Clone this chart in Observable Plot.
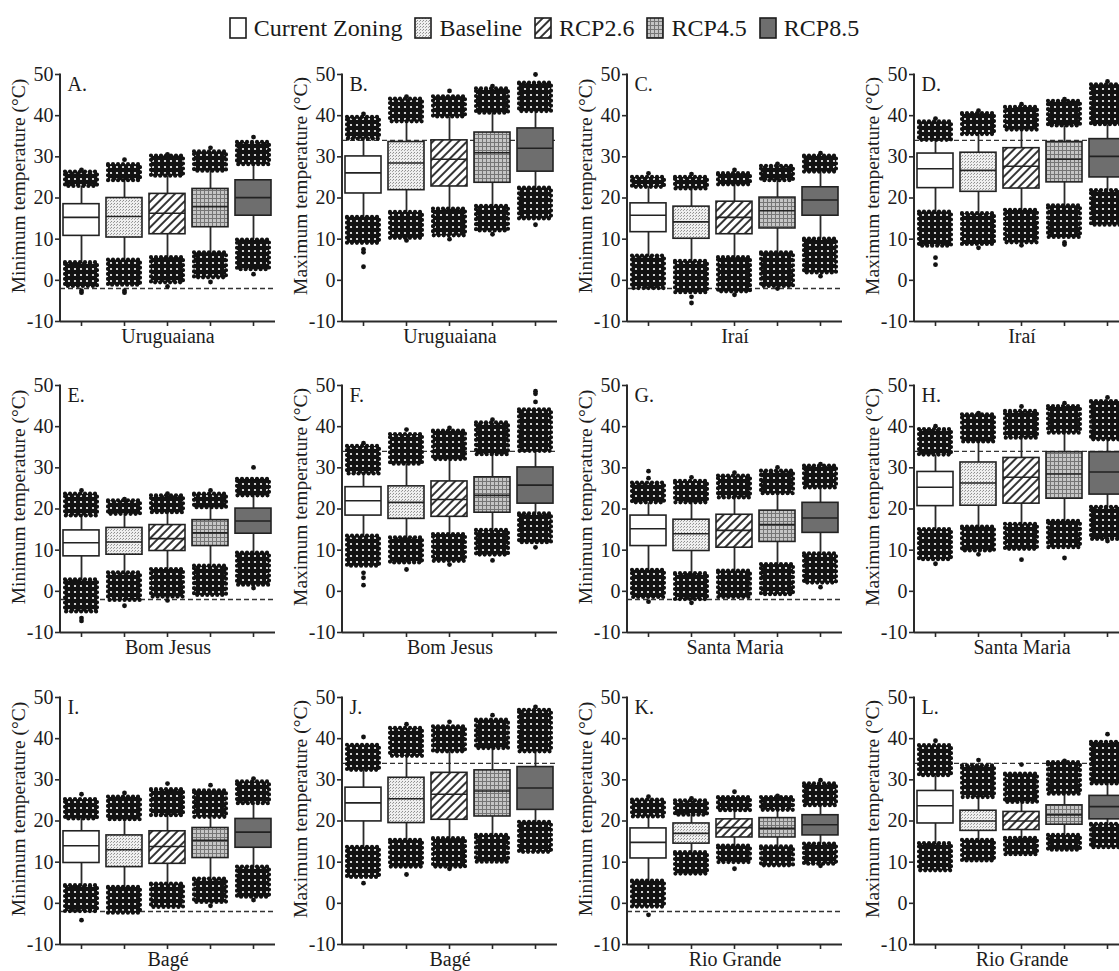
<!DOCTYPE html>
<html><head><meta charset="utf-8">
<script src="https://cdn.jsdelivr.net/npm/d3@7"></script>
<script src="https://cdn.jsdelivr.net/npm/@observablehq/plot@0.6"></script>
<style>
html,body{margin:0;padding:0;background:#fff;overflow:hidden;width:1119px;height:971px;}
#root{position:relative;width:1119px;height:971px;overflow:hidden;font-family:"Liberation Serif","Times New Roman",serif;color:#1a1a1a;}
.panel{position:absolute;width:285px;height:289px;}
.panel svg{max-width:none !important;background:transparent !important;overflow:visible;}
#legend{position:absolute;top:10px;left:0;width:1088px;display:flex;justify-content:center;align-items:center;font-size:24px;line-height:36px;}
#legend .item{display:flex;align-items:center;margin:0 6px;}
#legend svg{margin-right:7px;}
</style>
</head><body>
<svg width="0" height="0" style="position:absolute">
<defs>
<pattern id="pBase" width="3" height="3" patternUnits="userSpaceOnUse">
<rect width="3" height="3" fill="#efefef"/><rect x="0" y="0" width="1" height="1" fill="#8e8e8e"/><rect x="2" y="1" width="1" height="1" fill="#a5a5a5"/>
</pattern>
<pattern id="pR26" width="6" height="6" patternUnits="userSpaceOnUse" patternTransform="rotate(45)">
<rect width="6" height="6" fill="#fff"/><line x1="1" y1="0" x2="1" y2="6" stroke="#1e1e1e" stroke-width="1.8"/>
</pattern>
<pattern id="pR45" width="4" height="4" patternUnits="userSpaceOnUse">
<rect width="4" height="4" fill="#c6c6c6"/><rect x="0" y="0" width="4" height="1" fill="#767676"/><rect x="0" y="0" width="1" height="4" fill="#767676"/>
</pattern>
<pattern id="pCloud" width="6" height="6" patternUnits="userSpaceOnUse">
<rect width="6" height="6" fill="#121212"/><circle cx="3" cy="3" r="1.1" fill="#fff"/>
</pattern>
</defs>
</svg>
<div id="root">
<div id="legend"></div>
</div>
<script>
// ---------- data ----------
const scenarios = ["Current Zoning", "Baseline", "RCP2.6", "RCP4.5", "RCP8.5"];
const cities = ["Uruguaiana", "Iraí", "Bom Jesus", "Santa Maria", "Bagé", "Rio Grande"];
const variables = ["Minimum temperature (°C)", "Maximum temperature (°C)"];
const thresholds = [-2, 34];
const yTicks = [-10, 0, 10, 20, 30, 40, 50];
const letters = ["A.", "B.", "C.", "D.", "E.", "F.", "G.", "H.", "I.", "J.", "K.", "L."];

// each row: [cloud low end, lower whisker, Q1, median, Q3, upper whisker, cloud high end]
const A = [[-1.5, 4.3, 10.8, 15.3, 18.5, 22.8, 26.3], [-1.2, 4.9, 10.4, 15.5, 20.0, 24.2, 28.1], [-0.6, 5.5, 11.2, 16.3, 21.0, 25.3, 30.2], [0.6, 6.7, 12.9, 17.9, 22.2, 26.5, 31.2], [2.6, 9.8, 15.7, 20.1, 24.3, 28.1, 33.5]];
const B = [[9.0, 15.3, 21.1, 26.1, 30.1, 34.3, 39.6], [10.2, 16.5, 21.9, 28.5, 33.6, 38.5, 44.0], [10.8, 17.3, 22.8, 29.4, 34.0, 39.7, 44.6], [12.0, 18.0, 23.7, 31.0, 35.9, 40.6, 46.5], [14.9, 22.4, 26.4, 32.1, 36.9, 41.0, 47.9]];
const C = [[-2.0, 5.9, 11.7, 15.8, 18.7, 22.6, 25.0], [-3.0, 4.6, 10.1, 14.2, 17.9, 22.2, 25.0], [-2.8, 5.5, 11.2, 15.3, 19.1, 23.2, 25.9], [-1.5, 6.7, 12.6, 16.9, 20.1, 24.2, 27.7], [1.8, 10.0, 15.7, 19.5, 22.6, 26.3, 30.2]];
const D = [[8.3, 16.6, 22.4, 27.1, 30.8, 34.0, 38.5], [8.7, 16.2, 21.5, 26.7, 31.0, 35.4, 40.5], [9.1, 17.0, 22.3, 27.7, 32.1, 36.5, 42.0], [10.4, 18.1, 23.8, 29.4, 33.6, 37.5, 43.5], [13.4, 21.8, 25.0, 30.1, 34.3, 37.8, 47.5]];
const E = [[-5.0, 2.8, 8.5, 11.8, 14.8, 18.3, 23.6], [-2.2, 4.5, 8.9, 12.0, 15.4, 18.7, 22.0], [-1.4, 5.3, 9.8, 12.8, 16.1, 19.1, 23.2], [-1.0, 6.1, 11.0, 14.2, 17.3, 20.3, 23.6], [1.5, 9.3, 14.0, 17.1, 20.1, 23.2, 27.2]];
const F = [[6.1, 13.4, 18.4, 22.0, 25.3, 28.5, 35.2], [6.9, 13.0, 17.6, 21.6, 25.5, 30.9, 38.1], [7.3, 13.8, 18.1, 22.3, 26.7, 32.0, 38.9], [8.8, 14.8, 19.1, 23.3, 27.7, 33.2, 40.9], [11.8, 18.8, 21.3, 25.8, 30.1, 34.0, 44.1]];
const G = [[-1.5, 5.1, 11.0, 15.2, 18.4, 21.5, 26.3], [-2.0, 4.3, 9.8, 14.0, 17.4, 21.5, 26.7], [-1.5, 4.9, 10.6, 14.8, 18.6, 22.7, 28.0], [-0.8, 6.5, 12.0, 16.2, 19.6, 23.7, 29.2], [2.0, 9.1, 14.2, 17.8, 21.5, 25.1, 30.4]];
const H = [[7.7, 15.0, 20.7, 25.3, 29.0, 33.1, 39.3], [9.8, 15.6, 20.8, 26.3, 31.3, 36.3, 42.9], [10.2, 16.3, 21.3, 27.7, 32.4, 37.2, 43.7], [10.6, 17.0, 22.5, 28.5, 33.8, 38.4, 44.9], [12.6, 20.4, 23.5, 29.0, 33.8, 36.8, 46.1]];
const I = [[-2.0, 4.3, 9.8, 14.0, 17.5, 20.5, 25.2], [-2.4, 3.9, 8.8, 13.0, 16.5, 20.3, 25.8], [-1.0, 4.7, 9.6, 13.8, 17.5, 21.3, 27.6], [0.2, 5.9, 11.0, 15.3, 18.3, 20.9, 27.3], [1.5, 8.8, 13.5, 17.3, 20.5, 24.2, 29.5]];
const J = [[6.3, 13.6, 19.9, 24.4, 28.1, 32.3, 38.4], [8.8, 15.3, 19.5, 25.4, 30.5, 35.7, 42.5], [8.8, 15.7, 20.3, 26.5, 31.7, 36.8, 42.9], [10.0, 16.5, 21.1, 27.3, 32.3, 37.6, 44.5], [12.4, 19.7, 22.7, 28.0, 33.1, 36.8, 46.9]];
const K = [[-0.9, 5.4, 10.9, 14.8, 18.2, 21.0, 25.1], [7.1, 12.3, 14.5, 17.0, 19.4, 21.4, 24.9], [9.9, 13.9, 16.0, 18.4, 20.4, 22.5, 25.7], [9.1, 13.7, 16.0, 18.2, 20.7, 22.6, 25.7], [9.5, 14.4, 16.5, 19.1, 21.4, 23.7, 29.0]];
const L = [[7.9, 14.5, 19.4, 23.7, 27.3, 31.0, 38.3], [10.3, 15.3, 17.6, 20.0, 22.5, 25.7, 33.4], [11.8, 15.8, 17.8, 20.0, 22.2, 24.5, 31.4], [12.9, 16.5, 19.1, 21.5, 23.8, 26.5, 34.2], [13.5, 19.2, 20.4, 23.5, 26.1, 29.0, 39.1]];

// isolated extreme points: [scenario index, value]
const extA = [[0, -2.5], [0, -3.0], [0, 26.8], [1, -2.5], [1, -3.0], [1, 29.3], [2, -1.5], [2, 30.6], [3, -0.4], [3, 32.2], [4, 1.5], [4, 34.8]];
const extB = [[0, 7.5], [0, 6.8], [0, 3.3], [0, 40.4], [1, 9.7], [1, 44.6], [2, 10.0], [2, 46.0], [3, 11.2], [3, 47.2], [4, 13.5], [4, 50.0]];
const extC = [[0, 26.0], [1, -4.0], [1, -5.5], [1, 25.8], [2, -3.5], [2, 26.8], [3, -2.0], [3, 28.3], [4, 1.0], [4, 30.9]];
const extD = [[0, 5.5], [0, 3.8], [0, 39.3], [1, 7.9], [1, 41.2], [2, 8.5], [2, 42.8], [3, 9.2], [3, 8.7], [3, 44.0], [4, 48.3]];
const extE = [[0, -6.5], [0, -7.2], [0, 24.5], [1, -3.5], [1, 22.4], [2, -2.2], [2, 23.7], [3, 24.5], [4, 0.8], [4, 30.1]];
const extF = [[0, 4.5], [0, 3.3], [0, 1.5], [0, 36.0], [1, 5.3], [1, 39.3], [2, 6.5], [2, 39.7], [3, 7.5], [3, 41.7], [4, 10.7], [4, 46.0], [4, 48.0], [4, 48.6]];
const extG = [[0, -2.5], [0, 27.5], [0, 29.2], [1, -2.8], [1, 27.7], [2, 28.8], [3, 30.1], [4, 1.0], [4, 30.9]];
const extH = [[0, 6.7], [0, 40.1], [1, 9.0], [1, 43.3], [2, 7.7], [2, 44.9], [3, 8.1], [3, 45.7], [4, 12.2], [4, 47.1]];
const extI = [[0, -4.1], [0, 26.5], [1, 26.8], [2, 29.1], [3, -0.6], [3, 28.7], [4, 0.8], [4, 30.3]];
const extJ = [[0, 4.9], [0, 40.4], [1, 7.0], [1, 43.5], [2, 8.4], [2, 44.1], [3, 45.7], [4, 47.7]];
const extK = [[0, -2.8], [0, 25.9], [1, 25.5], [2, 8.4], [2, 27.1], [3, 26.1], [4, 9.1], [4, 29.9]];
const extL = [[0, 39.5], [1, 34.8], [2, 33.7], [3, 34.6], [4, 41.1]];

// panel table: [stats, extremes, letter, city index, variable index]
const panels = [
  [A, extA, 0, 0, 0], [B, extB, 1, 0, 1], [C, extC, 2, 1, 0], [D, extD, 3, 1, 1],
  [E, extE, 4, 2, 0], [F, extF, 5, 2, 1], [G, extG, 6, 3, 0], [H, extH, 7, 3, 1],
  [I, extI, 8, 4, 0], [J, extJ, 9, 4, 1], [K, extK, 10, 5, 0], [L, extL, 11, 5, 1]
];

// ---------- styling / layout ----------
const boxFills = ["#ffffff", "url(#pBase)", "url(#pR26)", "url(#pR45)", "#6e6e6e"];
const colAxisX = [60, 342, 627, 914];
const rowTop = [74, 385, 697];
const M = {left: 60, right: 10, top: 12, bottom: 30};
const FW = 215, FH = 247;
const ink = "#1c1c1c";
const font = '"Liberation Serif","Times New Roman",serif';

const root = document.getElementById("root");

panels.forEach(([stats, ext, li, ci, vi], k) => {
  const col = k % 4, row = Math.floor(k / 4);
  const data = stats.map((s, i) => ({scenario: scenarios[i], lo: s[0], wLo: s[1], q1: s[2], med: s[3], q3: s[4], wHi: s[5], hi: s[6]}));
  const pts = ext.map(([i, v]) => ({scenario: scenarios[i], v}));
  const yAxisLine = (index, scales, values, dims) => {
    const l = document.createElementNS("http://www.w3.org/2000/svg", "line");
    l.setAttribute("x1", dims.marginLeft); l.setAttribute("x2", dims.marginLeft);
    l.setAttribute("y1", dims.marginTop - 0.5); l.setAttribute("y2", dims.height - dims.marginBottom + 1);
    l.setAttribute("stroke", "#2a2a2a"); l.setAttribute("stroke-width", 2);
    return l;
  };
  const cloudOpts = {fill: "url(#pCloud)", stroke: "#121212", strokeWidth: 4.2, strokeDasharray: "0 5", strokeLinecap: "round", insetLeft: 2, insetRight: 2};
  const chart = Plot.plot({
    width: M.left + FW + M.right, height: M.top + FH + M.bottom,
    marginLeft: M.left, marginRight: M.right, marginTop: M.top, marginBottom: M.bottom,
    style: `font-family:${font};font-size:20px;color:${ink};background:transparent;overflow:visible;`,
    x: {type: "band", domain: scenarios, paddingInner: 0.16, paddingOuter: 0.08},
    y: {domain: [-10, 50]},
    color: {type: "ordinal", domain: scenarios, range: boxFills},
    marks: [
      Plot.ruleY([thresholds[vi]], {stroke: "#333", strokeWidth: 1.4, strokeDasharray: "5,3"}),
      Plot.ruleX(data, {x: "scenario", y1: "wLo", y2: "wHi", stroke: "#2a2a2a", strokeWidth: 1.8}),
      Plot.barY(data, {x: "scenario", y1: "lo", y2: "wLo", ...cloudOpts}),
      Plot.barY(data, {x: "scenario", y1: "wHi", y2: "hi", ...cloudOpts}),
      Plot.barY(data, {x: "scenario", y1: "q1", y2: "q3", fill: "scenario", stroke: "#222", strokeWidth: 1.6}),
      Plot.tickY(data, {x: "scenario", y: "med", stroke: "#222", strokeWidth: 1.6}),
      Plot.dot(pts, {x: "scenario", y: "v", r: 2.4, fill: "#121212"}),
      Plot.ruleY([-10], {stroke: "#2a2a2a", strokeWidth: 2}),
      yAxisLine,
      Plot.axisY({ticks: yTicks, tickSize: 5, tickPadding: 2, tickFormat: d => String(d), stroke: "#2a2a2a", strokeWidth: 1.6, label: null}),
      Plot.axisX({tickSize: 5, tickFormat: () => "", stroke: "#2a2a2a", strokeWidth: 1.6, label: null}),
      Plot.text([letters[li]], {text: d => d, frameAnchor: "top-left", dx: 7, dy: 2, lineAnchor: "top", textAnchor: "start", fontSize: 20, fill: ink}),
      Plot.text([cities[ci]], {text: d => d, frameAnchor: "bottom", dy: 15, lineAnchor: "middle", textAnchor: "middle", fontSize: 20, fill: ink}),
      Plot.text([variables[vi]], {text: d => d, frameAnchor: "left", rotate: -90, dx: -42, dy: -12, lineAnchor: "middle", textAnchor: "middle", fontSize: 19.5, fill: ink})
    ]
  });
  const div = document.createElement("div");
  div.className = "panel";
  div.style.left = (colAxisX[col] - M.left) + "px";
  div.style.top = (rowTop[row] - M.top) + "px";
  div.appendChild(chart);
  root.appendChild(div);
});

// ---------- legend ----------
const legend = document.getElementById("legend");
scenarios.forEach((s, i) => {
  const item = document.createElement("div");
  item.className = "item";
  item.innerHTML = `<svg width="18" height="22"><rect x="1" y="1" width="16" height="20" fill="${boxFills[i]}" stroke="#1c1c1c" stroke-width="1.6"/></svg><span>${s}</span>`;
  legend.appendChild(item);
});
</script>
</body></html>
